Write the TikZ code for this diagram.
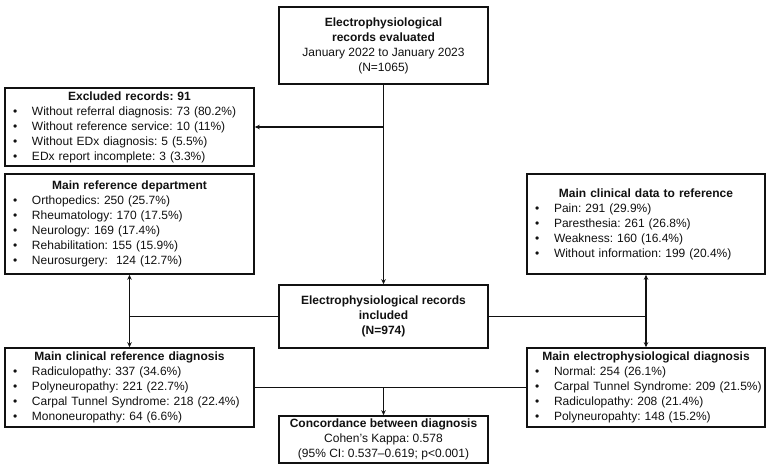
\documentclass[tikz,border=0pt]{standalone}
\usepackage{fontspec}
\setmainfont{Liberation Sans}
\usepackage{tikz}
\usetikzlibrary{arrows.meta,positioning,calc}
\definecolor{ink}{HTML}{111111}
\frenchspacing
\newcommand{\hdr}[1]{\makebox[\hsize]{\bfseries #1}}
\newcommand{\bul}[1]{\makebox[22pt][l]{\hspace{3pt}\textbullet}\mbox{#1}}
\tikzset{arr/.style={-{Stealth[length=5pt,width=4.5pt]},line width=1.2pt,draw=ink},
  conn/.style={line width=1.2pt,draw=ink},
  box/.style={draw=ink,line width=1.6pt,fill=white,inner xsep=5pt,inner ysep=0pt,
    font=\fontsize{12}{15}\selectfont,text=ink},
  listbox/.style={box,align=left},
  midbox/.style={box,align=center,minimum width=209pt}}

\begin{document}
\begin{tikzpicture}[x=1pt,y=-1pt]
\useasboundingbox (0,0) rectangle (771,467);
% boxes
\node[midbox,minimum height=77pt] (top) at (383.5,45.5)
  {\textbf{Electrophysiological}\\\textbf{records evaluated}\\January 2022 to January 2023\\(N=1065)};
\node[listbox,minimum width=249pt,minimum height=78pt,text width=239pt] (excl) at (129.5,127)
  {\hdr{Excluded records: 91}\\\bul{Without referral diagnosis: 73 (80.2\%)}\\\bul{Without reference service: 10 (11\%)}\\
   \bul{Without EDx diagnosis: 5 (5.5\%)}\\\bul{EDx report incomplete: 3 (3.3\%)}};
\node[listbox,minimum width=249pt,minimum height=100pt,text width=239pt] (dept) at (129.5,224)
  {\hdr{Main reference department}\\\bul{Orthopedics: 250 (25.7\%)}\\\bul{Rheumatology: 170 (17.5\%)}\\
   \bul{Neurology: 169 (17.4\%)}\\\bul{Rehabilitation: 155 (15.9\%)}\\\bul{Neurosurgery:\ \ 124 (12.7\%)}};
\node[listbox,minimum width=238pt,minimum height=100pt,text width=228pt] (clin) at (646,224)
  {\hdr{Main clinical data to reference}\\\bul{Pain: 291 (29.9\%)}\\\bul{Paresthesia: 261 (26.8\%)}\\
   \bul{Weakness: 160 (16.4\%)}\\\bul{Without information: 199 (20.4\%)}};
\node[midbox,minimum height=63pt] (incl) at (383.5,316.5)
  {\textbf{Electrophysiological records}\\\textbf{included}\\\textbf{(N=974)}};
\node[listbox,minimum width=249pt,minimum height=79pt,text width=239pt] (refdx) at (129.5,387.5)
  {\hdr{Main clinical reference diagnosis}\\\bul{Radiculopathy: 337 (34.6\%)}\\\bul{Polyneuropathy: 221 (22.7\%)}\\
   \bul{Carpal Tunnel Syndrome: 218 (22.4\%)}\\\bul{Mononeuropathy: 64 (6.6\%)}};
\node[listbox,minimum width=238pt,minimum height=79pt,text width=228pt] (eldx) at (646,387.5)
  {\hdr{Main electrophysiological diagnosis}\\\bul{Normal: 254 (26.1\%)}\\\bul{Carpal Tunnel Syndrome: 209 (21.5\%)}\\
   \bul{Radiculopathy: 208 (21.4\%)}\\\bul{Polyneuropahty: 148 (15.2\%)}};
\node[midbox,minimum height=47pt] (conc) at (383.5,439.5)
  {\textbf{Concordance between diagnosis}\\Cohen’s Kappa: 0.578\\(95\% CI: 0.537–0.619; p<0.001)};
% connectors
\coordinate (jx) at (top.south |- excl.east);
\coordinate (jl) at (dept.south |- incl.west);
\coordinate (jr) at (clin.south |- incl.east);
\coordinate (jb) at (conc.north |- refdx.east);
\draw[arr] (top.south) -- (incl.north);
\draw[arr] (jx) -- (excl.east);
\draw[conn] (incl.west) -- (jl);
\draw[arr] (jl) -- (dept.south);
\draw[arr] (jl) -- (refdx.north);
\draw[conn] (incl.east) -- (jr);
\draw[arr] (jr) -- (clin.south);
\draw[arr] (jr) -- (eldx.north);
\draw[conn] (refdx.east) -- (eldx.west);
\draw[arr] (jb) -- (conc.north);
\end{tikzpicture}
\end{document}
